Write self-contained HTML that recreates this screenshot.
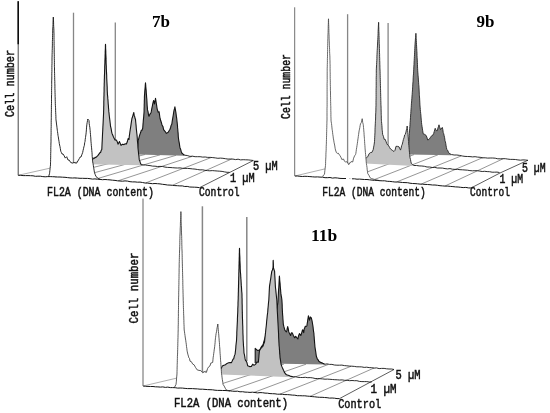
<!DOCTYPE html>
<html><head><meta charset="utf-8"><title>Figure</title>
<style>
html,body{margin:0;padding:0;background:#fff}
svg{display:block}
.m{font-family:"Liberation Mono",monospace;fill:#111;stroke:#111;stroke-width:0.5px}
.t{font-family:"Liberation Serif",serif;font-weight:bold;fill:#000}
</style></head><body>
<svg width="550" height="413" viewBox="0 0 550 413">
<rect width="550" height="413" fill="#fff"/>
<g>
<line x1="172.7" y1="185.2" x2="231.6" y2="159.0" stroke="#686868" stroke-width="0.7"/>
<line x1="146.0" y1="182.8" x2="211.0" y2="157.6" stroke="#686868" stroke-width="0.7"/>
<line x1="118.4" y1="180.7" x2="192.4" y2="156.3" stroke="#686868" stroke-width="0.7"/>
<line x1="95.8" y1="179.1" x2="176.0" y2="155.3" stroke="#686868" stroke-width="0.7"/>
<line x1="75.0" y1="178.0" x2="160.0" y2="154.9" stroke="#686868" stroke-width="0.7"/>
<line x1="55.0" y1="177.0" x2="145.0" y2="154.5" stroke="#686868" stroke-width="0.7"/>
<polyline points="18.2,175.3 73.0,163.0 115.0,152.0" fill="none" stroke="#777" stroke-width="0.6"/>
<polyline points="199.5,187.7 253.3,160.5" fill="none" stroke="#333" stroke-width="0.8"/>
<polyline points="184.5,155.2 187.2,155.5 190.0,156.4 192.5,156.2 195.1,156.7 197.6,156.7 200.1,156.7 202.7,157.1 205.2,157.0 207.7,157.4 210.3,157.4 212.8,157.6 215.3,157.9 217.9,158.3 220.4,158.1 222.9,158.3 225.4,158.7 228.0,159.1 230.5,159.0 233.0,159.1 235.6,159.6 238.1,159.2 240.6,159.9 243.2,159.7 245.7,159.8 248.2,159.9 250.8,160.2 253.3,160.5" fill="none" stroke="#141414" stroke-width="0.9"/>
<line x1="115.3" y1="22.5" x2="115.3" y2="152" stroke="#868686" stroke-width="1.3"/>
<polygon points="137.0,154.4 137.2,152.4 137.3,150.5 137.5,148.4 137.7,146.5 137.9,144.3 138.0,142.3 138.2,140.4 138.6,139.1 139.1,137.1 139.6,135.3 140.0,134.1 140.7,132.3 141.3,130.2 142.0,130.2 142.7,128.3 142.9,125.7 143.0,124.1 143.2,122.2 143.3,120.5 143.5,118.6 143.7,116.6 143.8,115.1 144.0,112.8 144.1,111.0 144.1,109.1 144.2,106.8 144.2,105.0 144.3,102.8 144.3,101.1 144.4,99.1 144.4,97.0 144.5,95.2 144.7,92.9 144.8,91.0 145.0,88.9 145.2,86.8 145.3,84.7 145.5,82.9 145.7,85.0 145.8,86.8 146.0,88.9 146.2,90.7 146.3,93.0 146.5,95.1 146.6,97.1 146.8,98.9 146.9,100.5 147.0,102.4 147.1,104.5 147.2,106.0 147.4,108.1 147.5,109.9 147.9,111.1 148.2,112.7 148.6,115.5 149.0,116.2 150.0,114.1 151.0,112.7 151.3,111.4 151.7,109.2 152.0,107.6 152.4,105.8 152.7,104.2 153.1,102.5 153.6,100.5 154.1,101.7 154.5,103.9 154.8,102.0 155.2,100.3 155.5,98.4 155.8,100.0 156.1,102.0 156.4,104.0 156.7,105.9 157.0,108.0 157.4,109.8 157.8,111.0 158.2,112.3 159.1,111.8 159.4,113.9 159.7,116.0 160.0,118.2 160.6,120.3 161.2,122.0 161.8,124.2 162.4,125.9 163.0,126.7 163.6,129.6 165.0,131.3 166.4,133.4 168.2,132.3 170.0,129.2 170.6,127.5 171.2,125.2 171.8,124.2 172.1,122.0 172.4,120.1 172.7,118.4 173.0,116.5 173.3,114.8 173.6,112.8 174.0,110.4 174.5,108.7 174.9,106.8 175.3,109.2 175.6,110.9 176.0,113.2 176.2,114.9 176.4,116.5 176.7,118.4 176.9,120.3 177.1,122.1 177.3,123.8 177.5,126.0 177.6,127.9 177.8,129.5 177.9,131.3 178.1,132.9 178.2,134.8 178.3,136.7 178.5,138.5 178.8,140.6 179.1,142.1 179.4,143.8 179.7,146.1 180.0,147.7 180.6,149.2 181.2,151.4 181.8,153.0 183.2,154.2 184.5,155.2 184.5,155.7 137.0,154.4" fill="#7f7f7f" stroke="none"/>
<polyline points="137.0,154.4 137.2,152.4 137.3,150.5 137.5,148.4 137.7,146.5 137.9,144.3 138.0,142.3 138.2,140.4 138.6,139.1 139.1,137.1 139.6,135.3 140.0,134.1 140.7,132.3 141.3,130.2 142.0,130.2 142.7,128.3 142.9,125.7 143.0,124.1 143.2,122.2 143.3,120.5 143.5,118.6 143.7,116.6 143.8,115.1 144.0,112.8 144.1,111.0 144.1,109.1 144.2,106.8 144.2,105.0 144.3,102.8 144.3,101.1 144.4,99.1 144.4,97.0 144.5,95.2 144.7,92.9 144.8,91.0 145.0,88.9 145.2,86.8 145.3,84.7 145.5,82.9 145.7,85.0 145.8,86.8 146.0,88.9 146.2,90.7 146.3,93.0 146.5,95.1 146.6,97.1 146.8,98.9 146.9,100.5 147.0,102.4 147.1,104.5 147.2,106.0 147.4,108.1 147.5,109.9 147.9,111.1 148.2,112.7 148.6,115.5 149.0,116.2 150.0,114.1 151.0,112.7 151.3,111.4 151.7,109.2 152.0,107.6 152.4,105.8 152.7,104.2 153.1,102.5 153.6,100.5 154.1,101.7 154.5,103.9 154.8,102.0 155.2,100.3 155.5,98.4 155.8,100.0 156.1,102.0 156.4,104.0 156.7,105.9 157.0,108.0 157.4,109.8 157.8,111.0 158.2,112.3 159.1,111.8 159.4,113.9 159.7,116.0 160.0,118.2 160.6,120.3 161.2,122.0 161.8,124.2 162.4,125.9 163.0,126.7 163.6,129.6 165.0,131.3 166.4,133.4 168.2,132.3 170.0,129.2 170.6,127.5 171.2,125.2 171.8,124.2 172.1,122.0 172.4,120.1 172.7,118.4 173.0,116.5 173.3,114.8 173.6,112.8 174.0,110.4 174.5,108.7 174.9,106.8 175.3,109.2 175.6,110.9 176.0,113.2 176.2,114.9 176.4,116.5 176.7,118.4 176.9,120.3 177.1,122.1 177.3,123.8 177.5,126.0 177.6,127.9 177.8,129.5 177.9,131.3 178.1,132.9 178.2,134.8 178.3,136.7 178.5,138.5 178.8,140.6 179.1,142.1 179.4,143.8 179.7,146.1 180.0,147.7 180.6,149.2 181.2,151.4 181.8,153.0 183.2,154.2 184.5,155.2" fill="none" stroke="#141414" stroke-width="1.1" stroke-linejoin="round"/>
<polyline points="141.0,164.5 143.2,164.9 145.5,165.0 147.8,165.4 150.0,165.6 152.5,166.1 155.0,166.2 157.5,166.5 160.0,166.4 162.5,166.5 165.0,167.1 167.5,167.4 170.0,167.5 172.5,167.7 175.0,167.9 177.5,168.0 180.0,167.9 182.5,168.3 185.0,168.4 187.5,168.4 190.0,168.6 192.5,168.9 195.0,169.1 197.5,169.5 200.0,169.9 202.5,169.8 204.9,170.3 207.4,170.6 209.8,170.8 212.3,170.6 214.8,170.8 217.2,171.0 219.7,171.2 222.1,171.4 224.6,171.9 227.0,172.3 229.5,172.3" fill="none" stroke="#141414" stroke-width="0.9"/>
<line x1="73.5" y1="12.7" x2="73.5" y2="163" stroke="#868686" stroke-width="1.3"/>
<polygon points="88.0,164.0 89.0,162.8 90.0,161.7 91.0,159.3 92.0,158.9 93.5,158.7 95.0,157.7 96.5,156.9 98.0,155.4 100.0,152.6 100.6,152.5 101.2,150.3 101.8,149.5 101.9,147.2 102.0,145.0 102.1,143.0 102.2,141.2 102.3,139.1 102.4,136.9 102.5,134.8 102.6,132.8 102.7,131.2 102.8,129.1 102.9,126.8 103.0,125.1 103.1,123.2 103.2,121.1 103.3,118.9 103.4,117.0 103.5,114.8 103.6,112.8 103.6,111.3 103.7,109.2 103.7,107.2 103.8,105.4 103.8,103.3 103.8,101.5 103.9,99.6 103.9,97.3 104.0,95.4 104.0,93.5 104.1,91.5 104.1,89.7 104.1,87.7 104.2,85.8 104.2,83.7 104.3,82.1 104.3,79.9 104.4,78.1 104.4,76.3 104.5,74.5 104.6,72.4 104.6,70.8 104.7,68.7 104.7,66.8 104.8,64.9 104.9,62.8 104.9,61.1 105.0,59.1 105.1,57.2 105.1,55.6 105.2,53.5 105.2,51.7 105.3,50.0 105.4,48.0 105.4,46.0 105.5,44.2 105.6,46.1 105.6,48.0 105.7,49.6 105.8,51.6 105.8,53.3 105.9,55.2 106.0,57.2 106.0,58.9 106.1,60.8 106.1,62.7 106.2,64.7 106.3,66.3 106.3,68.2 106.4,70.0 106.5,71.9 106.6,73.9 106.7,75.7 106.7,77.7 106.8,79.6 106.9,81.7 107.0,83.6 107.1,85.6 107.2,87.5 107.2,89.1 107.3,91.2 107.4,93.3 107.5,95.2 107.7,96.6 107.8,98.4 108.0,100.4 108.1,102.0 108.2,103.9 108.4,105.6 108.5,107.7 108.7,109.5 108.8,111.4 109.0,112.8 109.2,115.0 109.4,116.8 109.6,118.4 109.9,120.6 110.1,122.5 110.3,124.0 110.5,126.2 110.9,127.6 111.3,129.6 111.7,132.1 112.1,133.7 112.5,134.5 113.2,136.3 114.0,138.0 115.0,140.0 116.5,140.1 117.2,141.7 118.0,144.2 119.5,141.6 121.0,145.4 122.5,144.3 124.0,144.6 125.2,143.7 126.4,144.0 127.3,141.8 128.1,138.6 129.0,139.5 129.3,136.1 129.6,134.2 129.9,131.8 130.2,129.9 130.5,127.8 130.8,126.1 131.1,123.9 131.4,121.8 131.7,120.0 132.0,118.2 132.6,116.8 133.2,114.3 133.8,112.5 134.2,115.4 134.7,116.6 135.1,118.6 135.5,119.4 135.7,121.7 135.9,123.8 136.1,125.6 136.2,127.3 136.4,129.6 136.6,131.3 136.8,133.3 137.0,134.8 137.2,137.0 137.3,138.6 137.4,140.8 137.6,142.5 137.8,144.3 137.9,146.3 138.0,148.3 138.2,149.9 138.4,151.8 138.6,154.0 138.9,155.9 139.1,157.9 139.3,159.9 139.9,161.3 140.4,162.9 141.0,164.5 141.0,165.2 88.0,164.2" fill="#c2c2c2" stroke="none"/>
<polyline points="88.0,164.0 89.0,162.8 90.0,161.7 91.0,159.3 92.0,158.9 93.5,158.7 95.0,157.7 96.5,156.9 98.0,155.4 100.0,152.6 100.6,152.5 101.2,150.3 101.8,149.5 101.9,147.2 102.0,145.0 102.1,143.0 102.2,141.2 102.3,139.1 102.4,136.9 102.5,134.8 102.6,132.8 102.7,131.2 102.8,129.1 102.9,126.8 103.0,125.1 103.1,123.2 103.2,121.1 103.3,118.9 103.4,117.0 103.5,114.8 103.6,112.8 103.6,111.3 103.7,109.2 103.7,107.2 103.8,105.4 103.8,103.3 103.8,101.5 103.9,99.6 103.9,97.3 104.0,95.4 104.0,93.5 104.1,91.5 104.1,89.7 104.1,87.7 104.2,85.8 104.2,83.7 104.3,82.1 104.3,79.9 104.4,78.1 104.4,76.3 104.5,74.5 104.6,72.4 104.6,70.8 104.7,68.7 104.7,66.8 104.8,64.9 104.9,62.8 104.9,61.1 105.0,59.1 105.1,57.2 105.1,55.6 105.2,53.5 105.2,51.7 105.3,50.0 105.4,48.0 105.4,46.0 105.5,44.2 105.6,46.1 105.6,48.0 105.7,49.6 105.8,51.6 105.8,53.3 105.9,55.2 106.0,57.2 106.0,58.9 106.1,60.8 106.1,62.7 106.2,64.7 106.3,66.3 106.3,68.2 106.4,70.0 106.5,71.9 106.6,73.9 106.7,75.7 106.7,77.7 106.8,79.6 106.9,81.7 107.0,83.6 107.1,85.6 107.2,87.5 107.2,89.1 107.3,91.2 107.4,93.3 107.5,95.2 107.7,96.6 107.8,98.4 108.0,100.4 108.1,102.0 108.2,103.9 108.4,105.6 108.5,107.7 108.7,109.5 108.8,111.4 109.0,112.8 109.2,115.0 109.4,116.8 109.6,118.4 109.9,120.6 110.1,122.5 110.3,124.0 110.5,126.2 110.9,127.6 111.3,129.6 111.7,132.1 112.1,133.7 112.5,134.5 113.2,136.3 114.0,138.0 115.0,140.0 116.5,140.1 117.2,141.7 118.0,144.2 119.5,141.6 121.0,145.4 122.5,144.3 124.0,144.6 125.2,143.7 126.4,144.0 127.3,141.8 128.1,138.6 129.0,139.5 129.3,136.1 129.6,134.2 129.9,131.8 130.2,129.9 130.5,127.8 130.8,126.1 131.1,123.9 131.4,121.8 131.7,120.0 132.0,118.2 132.6,116.8 133.2,114.3 133.8,112.5 134.2,115.4 134.7,116.6 135.1,118.6 135.5,119.4 135.7,121.7 135.9,123.8 136.1,125.6 136.2,127.3 136.4,129.6 136.6,131.3 136.8,133.3 137.0,134.8 137.2,137.0 137.3,138.6 137.4,140.8 137.6,142.5 137.8,144.3 137.9,146.3 138.0,148.3 138.2,149.9 138.4,151.8 138.6,154.0 138.9,155.9 139.1,157.9 139.3,159.9 139.9,161.3 140.4,162.9 141.0,164.5" fill="none" stroke="#141414" stroke-width="1.1" stroke-linejoin="round"/>
<polygon points="48.2,176.6 48.9,175.6 49.5,173.7 49.7,172.2 49.9,170.3 50.1,168.5 50.3,166.6 50.5,164.9 50.5,162.9 50.6,161.3 50.6,159.3 50.7,157.2 50.7,155.4 50.7,153.7 50.8,151.4 50.8,149.8 50.8,147.7 50.9,145.8 50.9,144.0 51.0,141.9 51.0,140.0 51.0,138.2 51.0,136.4 51.1,134.2 51.1,132.5 51.1,130.6 51.1,128.6 51.2,126.6 51.2,124.7 51.2,122.7 51.2,120.8 51.3,118.9 51.3,117.3 51.3,115.1 51.3,113.2 51.4,111.2 51.4,109.7 51.4,107.8 51.4,105.8 51.5,103.7 51.5,101.8 51.5,99.9 51.5,98.1 51.5,96.0 51.6,94.3 51.6,92.3 51.6,90.7 51.6,88.8 51.7,86.7 51.7,84.6 51.7,83.1 51.7,80.9 51.8,79.0 51.8,76.9 51.8,75.2 51.8,73.3 51.9,71.4 51.9,69.4 51.9,67.6 51.9,65.5 52.0,63.7 52.0,61.7 52.0,60.0 52.0,57.9 52.1,56.0 52.1,54.3 52.2,52.4 52.2,50.7 52.3,48.8 52.3,47.0 52.4,45.1 52.4,43.2 52.4,41.4 52.5,39.3 52.5,37.4 52.6,35.8 52.6,33.6 52.7,32.0 52.7,30.1 52.8,28.0 52.9,26.5 53.0,24.7 53.0,22.8 53.1,21.0 53.2,19.3 53.3,17.1 53.4,19.1 53.5,20.9 53.6,22.9 53.6,24.7 53.7,26.5 53.8,28.2 53.9,30.2 53.9,32.0 54.0,33.9 54.0,35.6 54.0,37.4 54.0,39.4 54.1,41.4 54.1,43.2 54.1,45.4 54.2,47.2 54.2,49.1 54.2,51.0 54.2,52.9 54.3,54.8 54.3,56.4 54.3,58.7 54.4,60.6 54.4,62.4 54.4,64.3 54.4,66.3 54.5,67.9 54.5,70.1 54.5,71.8 54.6,73.6 54.6,75.5 54.7,77.6 54.7,79.2 54.8,81.4 54.8,83.3 54.9,85.0 54.9,86.8 54.9,88.7 55.0,90.7 55.0,92.6 55.1,94.4 55.1,96.3 55.2,97.9 55.2,99.8 55.3,101.7 55.3,103.7 55.4,105.4 55.5,107.3 55.6,108.9 55.6,110.7 55.7,112.6 55.8,114.6 55.9,116.5 55.9,118.3 56.0,119.9 56.3,122.0 56.5,124.0 56.8,126.0 57.0,127.8 57.3,130.2 57.5,131.6 57.8,133.7 58.0,135.4 58.3,136.8 58.6,139.1 59.0,141.3 59.3,143.5 59.6,145.0 60.0,146.7 60.3,148.4 60.8,151.3 61.3,152.3 62.1,154.1 63.0,153.9 64.2,155.9 65.3,158.1 66.7,156.7 68.0,160.0 69.3,160.2 70.7,162.5 72.5,163.1 74.0,162.5 76.5,163.2 77.9,161.0 79.3,158.6 80.2,157.0 81.0,157.0 81.8,154.8 82.7,152.4 83.1,150.3 83.5,148.7 83.9,146.8 84.3,145.7 84.7,142.6 85.0,141.6 85.2,139.7 85.5,137.5 85.7,136.1 86.0,134.1 86.2,132.2 86.4,129.9 86.5,127.9 86.7,126.0 86.9,124.2 87.2,122.4 87.5,120.6 87.8,119.0 88.4,119.8 89.0,120.6 89.2,123.6 89.5,125.7 89.8,127.2 90.0,129.2 90.2,130.7 90.3,132.5 90.5,134.4 90.6,136.1 90.8,137.9 90.9,140.0 91.0,141.8 91.2,143.5 91.3,145.3 91.5,147.2 91.7,149.0 91.8,150.7 92.0,152.6 92.1,154.2 92.2,156.4 92.4,158.1 92.5,160.1 92.7,161.9 93.0,163.5 93.3,165.2 93.6,167.4 93.9,168.9 94.2,170.9 94.5,172.7 95.2,174.5 96.0,176.6 98.2,178.4 100.0,179.3 100.0,179.3 48.2,176.6" fill="#fff" stroke="none"/>
<polyline points="48.2,176.6 48.9,175.6 49.5,173.7 49.7,172.2 49.9,170.3 50.1,168.5 50.3,166.6 50.5,164.9 50.5,162.9 50.6,161.3 50.6,159.3 50.7,157.2 50.7,155.4 50.7,153.7 50.8,151.4 50.8,149.8 50.8,147.7 50.9,145.8 50.9,144.0 51.0,141.9 51.0,140.0 51.0,138.2 51.0,136.4 51.1,134.2 51.1,132.5 51.1,130.6 51.1,128.6 51.2,126.6 51.2,124.7 51.2,122.7 51.2,120.8 51.3,118.9 51.3,117.3 51.3,115.1 51.3,113.2 51.4,111.2 51.4,109.7 51.4,107.8 51.4,105.8 51.5,103.7 51.5,101.8 51.5,99.9 51.5,98.1 51.5,96.0 51.6,94.3 51.6,92.3 51.6,90.7 51.6,88.8 51.7,86.7 51.7,84.6 51.7,83.1 51.7,80.9 51.8,79.0 51.8,76.9 51.8,75.2 51.8,73.3 51.9,71.4 51.9,69.4 51.9,67.6 51.9,65.5 52.0,63.7 52.0,61.7 52.0,60.0 52.0,57.9 52.1,56.0 52.1,54.3 52.2,52.4 52.2,50.7 52.3,48.8 52.3,47.0 52.4,45.1 52.4,43.2 52.4,41.4 52.5,39.3 52.5,37.4 52.6,35.8 52.6,33.6 52.7,32.0 52.7,30.1 52.8,28.0 52.9,26.5 53.0,24.7 53.0,22.8 53.1,21.0 53.2,19.3 53.3,17.1 53.4,19.1 53.5,20.9 53.6,22.9 53.6,24.7 53.7,26.5 53.8,28.2 53.9,30.2 53.9,32.0 54.0,33.9 54.0,35.6 54.0,37.4 54.0,39.4 54.1,41.4 54.1,43.2 54.1,45.4 54.2,47.2 54.2,49.1 54.2,51.0 54.2,52.9 54.3,54.8 54.3,56.4 54.3,58.7 54.4,60.6 54.4,62.4 54.4,64.3 54.4,66.3 54.5,67.9 54.5,70.1 54.5,71.8 54.6,73.6 54.6,75.5 54.7,77.6 54.7,79.2 54.8,81.4 54.8,83.3 54.9,85.0 54.9,86.8 54.9,88.7 55.0,90.7 55.0,92.6 55.1,94.4 55.1,96.3 55.2,97.9 55.2,99.8 55.3,101.7 55.3,103.7 55.4,105.4 55.5,107.3 55.6,108.9 55.6,110.7 55.7,112.6 55.8,114.6 55.9,116.5 55.9,118.3 56.0,119.9 56.3,122.0 56.5,124.0 56.8,126.0 57.0,127.8 57.3,130.2 57.5,131.6 57.8,133.7 58.0,135.4 58.3,136.8 58.6,139.1 59.0,141.3 59.3,143.5 59.6,145.0 60.0,146.7 60.3,148.4 60.8,151.3 61.3,152.3 62.1,154.1 63.0,153.9 64.2,155.9 65.3,158.1 66.7,156.7 68.0,160.0 69.3,160.2 70.7,162.5 72.5,163.1 74.0,162.5 76.5,163.2 77.9,161.0 79.3,158.6 80.2,157.0 81.0,157.0 81.8,154.8 82.7,152.4 83.1,150.3 83.5,148.7 83.9,146.8 84.3,145.7 84.7,142.6 85.0,141.6 85.2,139.7 85.5,137.5 85.7,136.1 86.0,134.1 86.2,132.2 86.4,129.9 86.5,127.9 86.7,126.0 86.9,124.2 87.2,122.4 87.5,120.6 87.8,119.0 88.4,119.8 89.0,120.6 89.2,123.6 89.5,125.7 89.8,127.2 90.0,129.2 90.2,130.7 90.3,132.5 90.5,134.4 90.6,136.1 90.8,137.9 90.9,140.0 91.0,141.8 91.2,143.5 91.3,145.3 91.5,147.2 91.7,149.0 91.8,150.7 92.0,152.6 92.1,154.2 92.2,156.4 92.4,158.1 92.5,160.1 92.7,161.9 93.0,163.5 93.3,165.2 93.6,167.4 93.9,168.9 94.2,170.9 94.5,172.7 95.2,174.5 96.0,176.6 98.2,178.4 100.0,179.3" fill="none" stroke="#141414" stroke-width="0.9" stroke-linejoin="round"/>
<polyline points="18.2,175.3 20.7,175.3 23.1,175.6 25.6,175.6 28.0,175.6 30.5,175.7 33.0,175.8 35.4,176.3 37.9,176.2 40.3,176.2 42.8,176.6 45.2,176.8 47.7,176.6 50.2,176.6 52.6,176.7 55.1,176.8 57.5,177.0 60.0,177.0 62.5,177.2 65.0,177.3 67.5,177.6 70.0,177.9 72.5,178.0 75.0,177.9 77.5,178.1 80.0,178.3 82.5,178.3 85.0,178.4 87.5,178.4 90.0,178.7 92.5,179.1 95.0,178.9 97.5,179.2 100.0,179.4 102.5,179.7 105.0,179.5 107.5,179.7 110.0,179.9 112.5,180.2 115.0,180.4 117.5,180.8 120.0,181.0 122.5,181.2 125.0,180.9 127.5,181.1 130.0,181.7 132.5,181.9 135.0,181.9 137.5,182.2 140.0,182.1 142.5,182.5 145.0,183.0 147.5,183.1 150.0,183.4 152.5,183.7 155.0,183.5 157.5,183.7 160.0,183.9 162.5,184.3 165.0,184.6 167.5,185.0 170.0,185.1 172.5,185.3 174.9,185.6 177.4,185.7 179.8,185.9 182.3,185.9 184.8,186.5 187.2,186.4 189.7,187.0 192.1,187.1 194.6,187.2 197.0,187.3 199.5,187.7" fill="none" stroke="#141414" stroke-width="1"/>
<line x1="18.2" y1="1.2" x2="18.2" y2="175.3" stroke="#444" stroke-width="1"/>
<line x1="18.2" y1="1.2" x2="18.2" y2="44.3" stroke="#000" stroke-width="1.4"/>
<text x="13.6" y="117" textLength="67" lengthAdjust="spacingAndGlyphs" font-size="12.2" class="m" transform="rotate(-90 13.6 117)">Cell number</text>
<text x="47" y="196.1" textLength="107" lengthAdjust="spacingAndGlyphs" font-size="12.2" class="m">FL2A (DNA content)</text>
<text x="199" y="196" textLength="40.6" lengthAdjust="spacingAndGlyphs" font-size="12.2" class="m">Control</text>
<text x="229.9" y="181.9" textLength="24.7" lengthAdjust="spacingAndGlyphs" font-size="12.2" class="m">1 µM</text>
<text x="252.9" y="169.5" textLength="24.7" lengthAdjust="spacingAndGlyphs" font-size="12.2" class="m">5 µM</text>
<text x="152" y="27" font-size="17" class="t">7b</text>
</g>
<g>
<line x1="445.0" y1="186.0" x2="503.0" y2="158.8" stroke="#686868" stroke-width="0.7"/>
<line x1="421.4" y1="184.0" x2="483.0" y2="157.5" stroke="#686868" stroke-width="0.7"/>
<line x1="396.8" y1="181.9" x2="461.0" y2="156.0" stroke="#686868" stroke-width="0.7"/>
<line x1="373.0" y1="180.1" x2="438.0" y2="154.8" stroke="#686868" stroke-width="0.7"/>
<line x1="349.0" y1="178.7" x2="414.0" y2="154.6" stroke="#686868" stroke-width="0.7"/>
<line x1="326.0" y1="177.5" x2="392.0" y2="153.3" stroke="#686868" stroke-width="0.7"/>
<polyline points="294.9,176.0 347.6,163.5 388.1,153.0" fill="none" stroke="#777" stroke-width="0.6"/>
<polyline points="471.0,188.0 500.0,173.0 528.0,160.2" fill="none" stroke="#333" stroke-width="0.8"/>
<polyline points="451.4,154.5 454.1,155.0 456.8,155.0 459.6,155.4 462.3,156.0 465.0,156.4 467.5,156.5 470.0,156.6 472.6,156.9 475.1,156.7 477.6,157.1 480.1,157.3 482.6,157.8 485.2,157.8 487.7,158.1 490.2,158.0 492.7,158.0 495.2,158.2 497.8,158.8 500.3,158.8 502.8,158.7 505.3,158.7 507.8,159.1 510.4,159.4 512.9,159.4 515.4,159.5 517.9,159.9 520.4,160.2 523.0,159.9 525.5,160.0 528.0,160.4" fill="none" stroke="#141414" stroke-width="0.9"/>
<line x1="388.1" y1="23.1" x2="388.1" y2="153" stroke="#868686" stroke-width="1.3"/>
<polygon points="408.6,154.5 408.6,152.6 408.6,150.6 408.6,148.9 408.6,147.0 408.6,145.0 408.7,143.0 408.9,141.5 409.0,139.3 409.1,137.7 409.2,135.6 409.4,133.7 409.5,132.1 409.6,130.0 409.7,128.4 409.9,126.4 410.0,124.4 410.1,122.5 410.3,120.8 410.4,119.0 410.5,117.3 410.6,115.1 410.8,113.4 410.9,111.4 411.0,109.9 411.2,107.7 411.3,105.8 411.4,103.8 411.6,102.0 411.7,100.2 411.9,98.2 412.0,96.1 412.2,94.2 412.3,92.2 412.5,89.9 412.6,87.9 412.7,86.2 412.8,84.1 413.0,81.8 413.1,80.1 413.2,77.9 413.3,75.9 413.5,73.9 413.6,71.9 413.7,69.8 413.8,68.0 413.9,66.1 414.0,64.4 414.1,62.1 414.2,60.6 414.3,58.3 414.4,56.5 414.5,54.8 414.6,52.8 414.7,50.7 414.8,48.6 414.9,46.9 415.0,44.9 415.1,43.2 415.3,41.0 415.4,39.1 415.6,37.4 415.8,35.0 415.9,33.3 416.0,35.3 416.1,37.1 416.2,38.7 416.3,40.5 416.4,42.4 416.5,44.6 416.6,46.2 416.7,48.3 416.8,50.2 416.9,51.7 417.0,53.5 417.0,55.7 417.1,57.3 417.2,59.0 417.3,61.0 417.4,62.6 417.5,64.4 417.5,66.1 417.6,68.3 417.7,70.2 417.8,72.1 418.0,74.2 418.1,75.8 418.3,77.9 418.4,80.0 418.6,82.2 418.7,84.2 418.9,85.9 419.0,87.9 419.1,90.0 419.2,92.0 419.3,94.2 419.4,95.9 419.6,98.1 419.7,100.1 419.8,102.1 419.9,104.1 420.0,106.0 420.2,107.8 420.3,109.6 420.5,111.5 420.7,113.5 420.9,115.1 421.0,117.0 421.2,119.1 421.4,120.7 421.5,122.5 421.7,124.3 422.0,126.3 422.3,128.1 422.6,130.2 422.9,132.0 423.2,133.8 424.5,134.3 425.9,135.2 426.8,137.0 427.7,140.0 429.1,139.4 430.5,137.3 431.9,135.5 433.2,134.8 433.7,133.4 434.2,131.7 434.7,130.0 435.2,128.3 436.0,130.3 436.8,130.7 437.4,130.6 437.9,128.1 438.4,126.8 439.0,124.8 439.5,127.0 440.0,127.9 440.5,129.6 442.3,127.4 442.8,129.5 443.2,132.4 443.7,133.7 444.1,135.5 444.6,137.7 445.0,140.7 445.4,141.8 445.7,143.2 446.1,145.9 446.4,147.4 446.8,149.5 447.7,150.3 448.6,152.7 450.0,153.8 451.4,154.5 451.4,155.2 408.6,154.5" fill="#7f7f7f" stroke="none"/>
<polyline points="408.6,154.5 408.6,152.6 408.6,150.6 408.6,148.9 408.6,147.0 408.6,145.0 408.7,143.0 408.9,141.5 409.0,139.3 409.1,137.7 409.2,135.6 409.4,133.7 409.5,132.1 409.6,130.0 409.7,128.4 409.9,126.4 410.0,124.4 410.1,122.5 410.3,120.8 410.4,119.0 410.5,117.3 410.6,115.1 410.8,113.4 410.9,111.4 411.0,109.9 411.2,107.7 411.3,105.8 411.4,103.8 411.6,102.0 411.7,100.2 411.9,98.2 412.0,96.1 412.2,94.2 412.3,92.2 412.5,89.9 412.6,87.9 412.7,86.2 412.8,84.1 413.0,81.8 413.1,80.1 413.2,77.9 413.3,75.9 413.5,73.9 413.6,71.9 413.7,69.8 413.8,68.0 413.9,66.1 414.0,64.4 414.1,62.1 414.2,60.6 414.3,58.3 414.4,56.5 414.5,54.8 414.6,52.8 414.7,50.7 414.8,48.6 414.9,46.9 415.0,44.9 415.1,43.2 415.3,41.0 415.4,39.1 415.6,37.4 415.8,35.0 415.9,33.3 416.0,35.3 416.1,37.1 416.2,38.7 416.3,40.5 416.4,42.4 416.5,44.6 416.6,46.2 416.7,48.3 416.8,50.2 416.9,51.7 417.0,53.5 417.0,55.7 417.1,57.3 417.2,59.0 417.3,61.0 417.4,62.6 417.5,64.4 417.5,66.1 417.6,68.3 417.7,70.2 417.8,72.1 418.0,74.2 418.1,75.8 418.3,77.9 418.4,80.0 418.6,82.2 418.7,84.2 418.9,85.9 419.0,87.9 419.1,90.0 419.2,92.0 419.3,94.2 419.4,95.9 419.6,98.1 419.7,100.1 419.8,102.1 419.9,104.1 420.0,106.0 420.2,107.8 420.3,109.6 420.5,111.5 420.7,113.5 420.9,115.1 421.0,117.0 421.2,119.1 421.4,120.7 421.5,122.5 421.7,124.3 422.0,126.3 422.3,128.1 422.6,130.2 422.9,132.0 423.2,133.8 424.5,134.3 425.9,135.2 426.8,137.0 427.7,140.0 429.1,139.4 430.5,137.3 431.9,135.5 433.2,134.8 433.7,133.4 434.2,131.7 434.7,130.0 435.2,128.3 436.0,130.3 436.8,130.7 437.4,130.6 437.9,128.1 438.4,126.8 439.0,124.8 439.5,127.0 440.0,127.9 440.5,129.6 442.3,127.4 442.8,129.5 443.2,132.4 443.7,133.7 444.1,135.5 444.6,137.7 445.0,140.7 445.4,141.8 445.7,143.2 446.1,145.9 446.4,147.4 446.8,149.5 447.7,150.3 448.6,152.7 450.0,153.8 451.4,154.5" fill="none" stroke="#262626" stroke-width="0.9" stroke-linejoin="round"/>
<polyline points="414.0,165.5 416.6,165.5 419.2,165.9 421.8,166.0 424.4,166.3 427.0,167.0 429.6,167.0 432.2,167.5 434.8,167.4 437.4,168.0 440.0,168.0 442.5,168.1 445.0,168.6 447.5,168.9 450.0,168.6 452.5,169.2 455.0,169.4 457.5,169.4 460.0,169.7 462.5,169.8 465.0,170.0 467.5,170.2 469.9,170.6 472.4,170.8 474.9,170.7 477.3,170.7 479.8,171.1 482.2,171.5 484.7,171.3 487.2,171.6 489.6,171.7 492.1,172.2 494.6,172.2 497.0,172.1 499.5,172.5" fill="none" stroke="#141414" stroke-width="0.9"/>
<line x1="347.6" y1="14.2" x2="347.6" y2="163.5" stroke="#868686" stroke-width="1.3"/>
<polygon points="365.0,159.0 366.4,157.8 367.8,156.7 369.1,153.7 370.5,152.6 371.9,152.4 373.2,149.7 373.5,147.9 373.9,145.8 374.2,144.1 374.5,141.7 374.6,139.8 374.7,137.8 374.8,135.8 374.9,134.0 375.0,132.1 375.0,129.8 375.1,127.8 375.2,126.0 375.3,123.8 375.4,121.8 375.5,120.2 375.6,118.0 375.6,116.1 375.7,114.0 375.8,112.2 375.9,110.0 375.9,107.8 376.0,105.8 376.0,104.1 376.0,102.3 376.0,100.5 376.1,98.2 376.1,96.6 376.1,94.6 376.1,92.7 376.1,90.7 376.1,88.8 376.2,87.1 376.2,85.3 376.2,83.1 376.2,81.4 376.2,79.6 376.2,77.8 376.3,75.5 376.3,73.6 376.3,72.1 376.3,70.2 376.4,68.1 376.5,66.0 376.6,64.4 376.7,62.3 376.8,60.6 376.9,58.5 376.9,56.7 377.0,54.5 377.1,52.8 377.2,50.6 377.3,48.8 377.4,47.1 377.5,45.1 377.6,43.0 377.7,41.1 377.8,39.3 377.9,37.4 378.0,35.4 378.1,33.4 378.1,31.6 378.2,29.9 378.3,28.1 378.4,25.8 378.5,24.1 378.6,22.3 378.7,23.9 378.7,26.2 378.8,27.7 378.8,29.8 378.9,31.7 379.0,33.7 379.0,35.4 379.1,37.4 379.1,39.3 379.2,41.2 379.2,43.2 379.3,45.0 379.4,46.9 379.4,48.6 379.5,50.8 379.5,52.7 379.6,54.5 379.6,56.7 379.7,58.6 379.7,60.4 379.8,62.2 379.8,64.2 379.9,66.0 379.9,67.9 380.0,70.0 380.1,71.7 380.1,73.8 380.2,75.7 380.2,77.4 380.3,79.5 380.3,81.2 380.4,83.4 380.4,85.3 380.5,87.1 380.5,88.7 380.6,90.8 380.6,92.7 380.7,94.8 380.7,96.4 380.8,98.6 380.8,100.5 380.9,102.3 380.9,104.2 381.0,105.9 381.1,108.2 381.1,110.0 381.2,112.2 381.2,114.2 381.3,115.8 381.3,118.1 381.4,120.2 381.5,121.6 381.7,123.6 381.9,125.6 382.0,127.1 382.1,129.2 382.3,130.8 382.5,132.8 382.6,134.3 383.4,136.3 384.2,139.4 385.0,139.1 385.9,141.1 386.8,143.7 387.7,145.0 388.6,145.6 389.6,147.5 390.5,149.0 392.3,150.3 394.0,151.5 395.0,150.3 396.0,146.3 397.7,146.4 399.0,146.8 400.5,150.1 401.1,148.1 401.7,145.5 402.3,144.2 402.9,141.6 403.4,139.5 404.0,137.9 404.7,134.9 405.3,134.4 406.0,132.0 406.4,129.8 406.8,128.6 407.2,126.0 407.4,128.6 407.6,130.5 407.8,132.4 408.0,134.6 408.1,136.3 408.3,138.0 408.4,140.1 408.6,141.6 408.7,143.8 408.9,145.4 409.0,147.4 409.2,149.3 409.3,150.9 409.5,152.7 409.7,154.3 409.8,156.0 410.0,157.8 410.5,159.5 410.9,161.8 411.4,163.6 412.7,164.6 414.0,165.5 414.0,165.9 365.0,163.6" fill="#c2c2c2" stroke="none"/>
<polyline points="365.0,159.0 366.4,157.8 367.8,156.7 369.1,153.7 370.5,152.6 371.9,152.4 373.2,149.7 373.5,147.9 373.9,145.8 374.2,144.1 374.5,141.7 374.6,139.8 374.7,137.8 374.8,135.8 374.9,134.0 375.0,132.1 375.0,129.8 375.1,127.8 375.2,126.0 375.3,123.8 375.4,121.8 375.5,120.2 375.6,118.0 375.6,116.1 375.7,114.0 375.8,112.2 375.9,110.0 375.9,107.8 376.0,105.8 376.0,104.1 376.0,102.3 376.0,100.5 376.1,98.2 376.1,96.6 376.1,94.6 376.1,92.7 376.1,90.7 376.1,88.8 376.2,87.1 376.2,85.3 376.2,83.1 376.2,81.4 376.2,79.6 376.2,77.8 376.3,75.5 376.3,73.6 376.3,72.1 376.3,70.2 376.4,68.1 376.5,66.0 376.6,64.4 376.7,62.3 376.8,60.6 376.9,58.5 376.9,56.7 377.0,54.5 377.1,52.8 377.2,50.6 377.3,48.8 377.4,47.1 377.5,45.1 377.6,43.0 377.7,41.1 377.8,39.3 377.9,37.4 378.0,35.4 378.1,33.4 378.1,31.6 378.2,29.9 378.3,28.1 378.4,25.8 378.5,24.1 378.6,22.3 378.7,23.9 378.7,26.2 378.8,27.7 378.8,29.8 378.9,31.7 379.0,33.7 379.0,35.4 379.1,37.4 379.1,39.3 379.2,41.2 379.2,43.2 379.3,45.0 379.4,46.9 379.4,48.6 379.5,50.8 379.5,52.7 379.6,54.5 379.6,56.7 379.7,58.6 379.7,60.4 379.8,62.2 379.8,64.2 379.9,66.0 379.9,67.9 380.0,70.0 380.1,71.7 380.1,73.8 380.2,75.7 380.2,77.4 380.3,79.5 380.3,81.2 380.4,83.4 380.4,85.3 380.5,87.1 380.5,88.7 380.6,90.8 380.6,92.7 380.7,94.8 380.7,96.4 380.8,98.6 380.8,100.5 380.9,102.3 380.9,104.2 381.0,105.9 381.1,108.2 381.1,110.0 381.2,112.2 381.2,114.2 381.3,115.8 381.3,118.1 381.4,120.2 381.5,121.6 381.7,123.6 381.9,125.6 382.0,127.1 382.1,129.2 382.3,130.8 382.5,132.8 382.6,134.3 383.4,136.3 384.2,139.4 385.0,139.1 385.9,141.1 386.8,143.7 387.7,145.0 388.6,145.6 389.6,147.5 390.5,149.0 392.3,150.3 394.0,151.5 395.0,150.3 396.0,146.3 397.7,146.4 399.0,146.8 400.5,150.1 401.1,148.1 401.7,145.5 402.3,144.2 402.9,141.6 403.4,139.5 404.0,137.9 404.7,134.9 405.3,134.4 406.0,132.0 406.4,129.8 406.8,128.6 407.2,126.0 407.4,128.6 407.6,130.5 407.8,132.4 408.0,134.6 408.1,136.3 408.3,138.0 408.4,140.1 408.6,141.6 408.7,143.8 408.9,145.4 409.0,147.4 409.2,149.3 409.3,150.9 409.5,152.7 409.7,154.3 409.8,156.0 410.0,157.8 410.5,159.5 410.9,161.8 411.4,163.6 412.7,164.6 414.0,165.5" fill="none" stroke="#262626" stroke-width="0.9" stroke-linejoin="round"/>
<polygon points="322.7,176.7 323.6,174.9 324.5,174.3 324.7,172.1 324.9,170.4 325.1,168.8 325.3,167.0 325.5,165.4 325.6,163.5 325.6,161.8 325.7,159.9 325.8,157.9 325.9,156.2 325.9,154.3 326.0,152.3 326.1,150.8 326.2,148.6 326.2,146.7 326.3,144.8 326.4,143.1 326.4,141.3 326.5,139.4 326.5,137.3 326.6,135.3 326.6,133.2 326.7,131.6 326.7,129.6 326.8,127.6 326.8,125.8 326.9,123.8 326.9,122.1 327.0,120.1 327.0,118.0 327.0,116.3 327.0,114.0 327.0,112.3 327.0,110.3 327.0,108.3 327.1,106.3 327.1,104.7 327.1,102.5 327.1,100.8 327.1,99.0 327.1,96.8 327.1,94.9 327.1,93.1 327.1,91.2 327.1,89.3 327.1,87.4 327.1,85.2 327.1,83.4 327.2,81.4 327.2,79.4 327.2,77.9 327.2,75.9 327.2,73.9 327.2,71.7 327.2,70.2 327.2,68.2 327.3,66.2 327.3,64.5 327.4,62.5 327.4,60.5 327.4,58.6 327.5,56.8 327.5,54.8 327.5,53.1 327.6,51.4 327.6,49.5 327.6,47.7 327.7,45.7 327.7,43.6 327.8,41.9 327.8,40.0 327.9,38.2 327.9,36.1 328.0,34.1 328.1,32.3 328.1,30.5 328.2,28.3 328.2,26.6 328.3,24.3 328.4,22.5 328.4,20.5 328.5,18.8 328.6,20.8 328.6,22.7 328.7,24.4 328.8,26.6 328.8,28.3 328.9,30.2 328.9,32.4 329.0,34.2 329.1,36.2 329.1,38.1 329.2,40.2 329.3,41.9 329.3,44.0 329.4,45.8 329.5,47.8 329.6,49.5 329.6,51.6 329.7,53.4 329.8,55.2 329.9,57.1 329.9,59.1 330.0,60.8 330.0,63.2 330.1,64.8 330.1,66.7 330.1,68.7 330.1,71.1 330.2,72.8 330.2,74.6 330.2,76.6 330.2,78.5 330.3,80.8 330.3,82.8 330.3,84.7 330.4,86.5 330.4,88.1 330.4,90.2 330.5,92.0 330.5,94.0 330.5,95.9 330.6,97.8 330.6,99.3 330.6,101.5 330.7,103.4 330.7,105.3 330.8,106.8 330.8,108.7 330.8,110.5 330.9,112.3 330.9,114.6 330.9,116.4 331.0,118.2 331.0,120.1 331.2,121.9 331.5,123.5 331.7,125.3 331.9,127.1 332.1,129.2 332.4,130.8 332.6,132.7 332.8,134.5 333.1,136.2 333.3,138.1 333.7,140.1 334.0,142.2 334.4,144.0 334.8,146.0 335.1,148.2 335.5,150.0 336.4,152.6 337.3,153.4 338.2,153.1 340.0,155.7 340.9,157.2 341.8,159.5 343.5,159.0 344.5,161.3 345.5,161.9 347.1,161.8 348.7,164.7 351.0,161.6 352.7,162.0 353.6,158.2 354.6,155.8 355.5,154.6 355.8,153.6 356.1,151.7 356.4,149.3 356.7,147.6 357.0,145.6 357.3,143.7 357.6,141.7 357.8,140.0 358.1,138.1 358.3,136.5 358.6,134.5 358.8,133.0 359.1,130.9 359.5,129.1 359.8,127.6 360.1,125.7 360.5,123.8 361.4,122.4 362.2,118.7 362.7,122.4 363.2,124.3 363.4,125.9 363.5,127.5 363.7,129.2 363.8,130.9 364.0,132.7 364.1,134.7 364.2,136.1 364.4,138.3 364.5,139.7 364.6,141.6 364.7,143.5 364.9,145.6 365.0,147.2 365.1,148.9 365.3,151.0 365.4,152.5 365.6,154.5 365.8,156.3 365.9,158.2 366.1,160.1 366.2,161.8 366.4,163.5 366.7,165.5 367.0,167.4 367.2,169.8 367.5,171.7 367.8,173.7 368.9,175.2 370.0,177.7 371.5,178.5 373.0,179.0 374.5,179.4 376.3,179.9 378.2,180.3 380.0,180.6 380.0,180.6 322.7,176.7" fill="#fff" stroke="none"/>
<polyline points="322.7,176.7 323.6,174.9 324.5,174.3 324.7,172.1 324.9,170.4 325.1,168.8 325.3,167.0 325.5,165.4 325.6,163.5 325.6,161.8 325.7,159.9 325.8,157.9 325.9,156.2 325.9,154.3 326.0,152.3 326.1,150.8 326.2,148.6 326.2,146.7 326.3,144.8 326.4,143.1 326.4,141.3 326.5,139.4 326.5,137.3 326.6,135.3 326.6,133.2 326.7,131.6 326.7,129.6 326.8,127.6 326.8,125.8 326.9,123.8 326.9,122.1 327.0,120.1 327.0,118.0 327.0,116.3 327.0,114.0 327.0,112.3 327.0,110.3 327.0,108.3 327.1,106.3 327.1,104.7 327.1,102.5 327.1,100.8 327.1,99.0 327.1,96.8 327.1,94.9 327.1,93.1 327.1,91.2 327.1,89.3 327.1,87.4 327.1,85.2 327.1,83.4 327.2,81.4 327.2,79.4 327.2,77.9 327.2,75.9 327.2,73.9 327.2,71.7 327.2,70.2 327.2,68.2 327.3,66.2 327.3,64.5 327.4,62.5 327.4,60.5 327.4,58.6 327.5,56.8 327.5,54.8 327.5,53.1 327.6,51.4 327.6,49.5 327.6,47.7 327.7,45.7 327.7,43.6 327.8,41.9 327.8,40.0 327.9,38.2 327.9,36.1 328.0,34.1 328.1,32.3 328.1,30.5 328.2,28.3 328.2,26.6 328.3,24.3 328.4,22.5 328.4,20.5 328.5,18.8 328.6,20.8 328.6,22.7 328.7,24.4 328.8,26.6 328.8,28.3 328.9,30.2 328.9,32.4 329.0,34.2 329.1,36.2 329.1,38.1 329.2,40.2 329.3,41.9 329.3,44.0 329.4,45.8 329.5,47.8 329.6,49.5 329.6,51.6 329.7,53.4 329.8,55.2 329.9,57.1 329.9,59.1 330.0,60.8 330.0,63.2 330.1,64.8 330.1,66.7 330.1,68.7 330.1,71.1 330.2,72.8 330.2,74.6 330.2,76.6 330.2,78.5 330.3,80.8 330.3,82.8 330.3,84.7 330.4,86.5 330.4,88.1 330.4,90.2 330.5,92.0 330.5,94.0 330.5,95.9 330.6,97.8 330.6,99.3 330.6,101.5 330.7,103.4 330.7,105.3 330.8,106.8 330.8,108.7 330.8,110.5 330.9,112.3 330.9,114.6 330.9,116.4 331.0,118.2 331.0,120.1 331.2,121.9 331.5,123.5 331.7,125.3 331.9,127.1 332.1,129.2 332.4,130.8 332.6,132.7 332.8,134.5 333.1,136.2 333.3,138.1 333.7,140.1 334.0,142.2 334.4,144.0 334.8,146.0 335.1,148.2 335.5,150.0 336.4,152.6 337.3,153.4 338.2,153.1 340.0,155.7 340.9,157.2 341.8,159.5 343.5,159.0 344.5,161.3 345.5,161.9 347.1,161.8 348.7,164.7 351.0,161.6 352.7,162.0 353.6,158.2 354.6,155.8 355.5,154.6 355.8,153.6 356.1,151.7 356.4,149.3 356.7,147.6 357.0,145.6 357.3,143.7 357.6,141.7 357.8,140.0 358.1,138.1 358.3,136.5 358.6,134.5 358.8,133.0 359.1,130.9 359.5,129.1 359.8,127.6 360.1,125.7 360.5,123.8 361.4,122.4 362.2,118.7 362.7,122.4 363.2,124.3 363.4,125.9 363.5,127.5 363.7,129.2 363.8,130.9 364.0,132.7 364.1,134.7 364.2,136.1 364.4,138.3 364.5,139.7 364.6,141.6 364.7,143.5 364.9,145.6 365.0,147.2 365.1,148.9 365.3,151.0 365.4,152.5 365.6,154.5 365.8,156.3 365.9,158.2 366.1,160.1 366.2,161.8 366.4,163.5 366.7,165.5 367.0,167.4 367.2,169.8 367.5,171.7 367.8,173.7 368.9,175.2 370.0,177.7 371.5,178.5 373.0,179.0 374.5,179.4 376.3,179.9 378.2,180.3 380.0,180.6" fill="none" stroke="#444" stroke-width="0.8" stroke-linejoin="round"/>
<polyline points="294.9,176.0 297.4,176.0 299.9,176.3 302.4,176.5 304.9,176.3 307.4,176.4 309.9,176.6 312.4,176.8 314.9,177.0 317.4,176.9 320.0,177.1 322.5,177.2 325.0,177.7 327.5,177.7 330.0,177.5 332.5,178.1 335.0,177.8 337.5,178.0 340.0,178.4 343.0,178.5 346.0,178.5" fill="none" stroke="#141414" stroke-width="1"/>
<polyline points="352.0,178.8 354.5,178.8 357.0,179.2 359.5,179.1 362.0,179.3 364.5,179.5 367.0,179.5 369.5,179.8 372.0,180.1 374.5,180.3 377.1,180.4 379.6,180.7 382.2,180.8 384.7,180.8 387.3,181.3 389.8,181.4 392.4,181.7 394.9,182.0 397.5,182.0 400.0,182.2 402.5,182.5 405.0,182.6 407.5,182.7 410.0,183.2 412.5,183.5 415.0,183.6 417.5,183.8 420.0,184.1 422.5,184.2 425.0,184.4 427.5,184.5 430.0,184.7 432.5,185.0 435.0,185.0 437.5,185.3 440.0,185.7 442.6,185.9 445.2,186.1 447.8,186.1 450.3,186.4 452.9,186.6 455.5,186.9 458.1,187.0 460.7,187.3 463.2,187.6 465.8,187.4 468.4,187.9 471.0,188.0" fill="none" stroke="#141414" stroke-width="1"/>
<line x1="294.7" y1="7.3" x2="294.7" y2="176" stroke="#707070" stroke-width="1"/>
<text x="290" y="119" textLength="65" lengthAdjust="spacingAndGlyphs" font-size="12.2" class="m" transform="rotate(-90 290 119)">Cell number</text>
<text x="322.3" y="195.5" textLength="103.5" lengthAdjust="spacingAndGlyphs" font-size="12.2" class="m">FL2A (DNA content)</text>
<text x="470" y="195.6" textLength="40" lengthAdjust="spacingAndGlyphs" font-size="12.2" class="m">Control</text>
<text x="499.6" y="183" textLength="23.4" lengthAdjust="spacingAndGlyphs" font-size="12.2" class="m">1 µM</text>
<text x="522" y="171.8" textLength="23.6" lengthAdjust="spacingAndGlyphs" font-size="12.2" class="m">5 µM</text>
<text x="476.5" y="27" font-size="17" class="t">9b</text>
</g>
<g>
<line x1="310.0" y1="396.4" x2="374.0" y2="368.0" stroke="#686868" stroke-width="0.7"/>
<line x1="280.0" y1="394.1" x2="351.0" y2="366.3" stroke="#686868" stroke-width="0.7"/>
<line x1="254.0" y1="392.4" x2="328.0" y2="364.6" stroke="#686868" stroke-width="0.7"/>
<line x1="229.0" y1="390.9" x2="306.0" y2="364.2" stroke="#686868" stroke-width="0.7"/>
<line x1="204.0" y1="389.4" x2="284.0" y2="364.0" stroke="#686868" stroke-width="0.7"/>
<polyline points="143.1,386.0 202.4,372.1 246.6,361.0" fill="none" stroke="#777" stroke-width="0.6"/>
<polyline points="339.5,398.6 394.0,369.5" fill="none" stroke="#333" stroke-width="0.8"/>
<polyline points="319.0,361.8 321.8,362.9 324.5,364.3 327.0,363.9 329.5,364.4 331.9,364.4 334.4,365.0 336.9,365.2 339.4,365.2 341.9,365.1 344.4,365.6 346.8,365.8 349.3,366.1 351.8,366.2 354.3,366.4 356.8,366.8 359.2,366.8 361.7,366.9 364.2,367.4 366.7,367.2 369.2,367.6 371.7,367.7 374.1,368.1 376.6,367.9 379.1,368.6 381.6,368.4 384.1,368.4 386.6,368.8 389.0,369.0 391.5,369.0 394.0,369.5" fill="none" stroke="#141414" stroke-width="0.9"/>
<line x1="246.8" y1="217" x2="246.8" y2="361" stroke="#868686" stroke-width="1.5"/>
<polygon points="255.2,363.0 255.2,361.2 255.2,359.3 255.2,357.5 255.2,355.6 255.2,354.0 255.2,352.3 255.2,350.3 255.2,348.4 257.4,350.4 259.5,350.2 260.8,347.9 262.0,345.9 262.6,345.6 263.2,343.9 263.8,341.8 264.4,339.8 265.0,338.1 265.6,335.8 266.1,335.1 266.7,332.4 267.2,331.1 267.8,329.6 268.3,327.8 268.9,325.5 269.4,323.5 270.0,322.1 271.0,319.2 272.0,319.6 273.0,316.4 274.0,316.2 275.0,312.7 276.0,311.3 277.0,309.3 277.2,308.2 277.4,306.3 277.6,304.4 277.8,302.9 278.0,300.9 278.1,299.0 278.2,297.1 278.3,295.2 278.4,293.3 278.5,291.4 278.6,289.5 278.8,287.5 278.9,285.8 279.0,283.9 279.1,281.6 279.2,280.0 279.3,278.1 279.4,276.1 279.6,277.8 279.7,280.1 279.9,281.9 280.1,283.6 280.2,285.6 280.4,287.9 280.6,289.8 280.7,291.5 280.9,293.4 281.2,295.6 281.6,297.7 281.9,300.1 282.0,301.7 282.1,303.5 282.2,305.6 282.2,307.4 282.3,308.9 282.4,311.1 282.5,312.7 282.6,314.6 282.8,316.6 282.9,318.8 283.1,320.7 283.2,322.8 283.4,324.6 283.9,326.7 284.3,328.1 284.8,330.2 286.3,331.8 286.8,330.9 287.2,328.7 287.7,326.6 288.1,328.2 288.4,329.7 288.8,331.9 289.2,332.8 290.6,335.5 291.3,333.1 292.0,332.7 292.8,334.1 293.5,335.7 294.6,337.8 295.7,336.3 297.9,339.0 298.6,335.7 299.4,333.6 300.8,335.5 301.4,333.8 302.1,331.3 302.7,329.7 303.7,332.7 304.2,329.0 304.7,328.1 305.2,326.4 306.6,326.2 306.9,325.7 307.2,323.7 307.5,321.8 307.8,319.6 308.1,317.9 308.4,315.7 308.9,317.6 309.5,320.2 310.4,317.0 311.3,317.9 311.7,319.3 312.1,321.2 312.5,323.5 312.8,325.3 313.1,327.4 313.3,329.4 313.6,331.6 313.9,333.4 314.0,335.3 314.2,337.2 314.3,339.1 314.5,341.1 314.6,342.7 314.8,344.8 314.9,346.5 315.2,348.5 315.5,350.4 315.8,352.4 316.1,354.6 316.4,356.5 317.3,358.8 318.1,359.8 319.0,361.6 320.8,362.4 322.7,363.3 324.5,364.0 324.5,364.6 255.2,363.3" fill="#7f7f7f" stroke="none"/>
<polyline points="255.2,363.0 255.2,361.2 255.2,359.3 255.2,357.5 255.2,355.6 255.2,354.0 255.2,352.3 255.2,350.3 255.2,348.4 257.4,350.4 259.5,350.2 260.8,347.9 262.0,345.9 262.6,345.6 263.2,343.9 263.8,341.8 264.4,339.8 265.0,338.1 265.6,335.8 266.1,335.1 266.7,332.4 267.2,331.1 267.8,329.6 268.3,327.8 268.9,325.5 269.4,323.5 270.0,322.1 271.0,319.2 272.0,319.6 273.0,316.4 274.0,316.2 275.0,312.7 276.0,311.3 277.0,309.3 277.2,308.2 277.4,306.3 277.6,304.4 277.8,302.9 278.0,300.9 278.1,299.0 278.2,297.1 278.3,295.2 278.4,293.3 278.5,291.4 278.6,289.5 278.8,287.5 278.9,285.8 279.0,283.9 279.1,281.6 279.2,280.0 279.3,278.1 279.4,276.1 279.6,277.8 279.7,280.1 279.9,281.9 280.1,283.6 280.2,285.6 280.4,287.9 280.6,289.8 280.7,291.5 280.9,293.4 281.2,295.6 281.6,297.7 281.9,300.1 282.0,301.7 282.1,303.5 282.2,305.6 282.2,307.4 282.3,308.9 282.4,311.1 282.5,312.7 282.6,314.6 282.8,316.6 282.9,318.8 283.1,320.7 283.2,322.8 283.4,324.6 283.9,326.7 284.3,328.1 284.8,330.2 286.3,331.8 286.8,330.9 287.2,328.7 287.7,326.6 288.1,328.2 288.4,329.7 288.8,331.9 289.2,332.8 290.6,335.5 291.3,333.1 292.0,332.7 292.8,334.1 293.5,335.7 294.6,337.8 295.7,336.3 297.9,339.0 298.6,335.7 299.4,333.6 300.8,335.5 301.4,333.8 302.1,331.3 302.7,329.7 303.7,332.7 304.2,329.0 304.7,328.1 305.2,326.4 306.6,326.2 306.9,325.7 307.2,323.7 307.5,321.8 307.8,319.6 308.1,317.9 308.4,315.7 308.9,317.6 309.5,320.2 310.4,317.0 311.3,317.9 311.7,319.3 312.1,321.2 312.5,323.5 312.8,325.3 313.1,327.4 313.3,329.4 313.6,331.6 313.9,333.4 314.0,335.3 314.2,337.2 314.3,339.1 314.5,341.1 314.6,342.7 314.8,344.8 314.9,346.5 315.2,348.5 315.5,350.4 315.8,352.4 316.1,354.6 316.4,356.5 317.3,358.8 318.1,359.8 319.0,361.6 320.8,362.4 322.7,363.3 324.5,364.0" fill="none" stroke="#141414" stroke-width="1.1" stroke-linejoin="round"/>
<polyline points="293.0,376.8 295.5,376.7 297.9,377.3 300.4,377.5 302.8,377.5 305.3,377.3 307.8,377.7 310.2,377.6 312.7,377.9 315.1,378.5 317.6,378.5 320.1,378.7 322.5,378.9 325.0,379.2 327.4,379.1 329.9,379.3 332.4,379.5 334.8,379.7 337.3,379.8 339.7,380.0 342.2,379.9 344.6,380.3 347.1,380.3 349.6,380.7 352.0,380.5 354.5,380.7 356.9,380.7 359.4,381.4 361.9,381.6 364.3,381.6 366.8,381.6 369.2,382.0 371.7,382.0" fill="none" stroke="#141414" stroke-width="0.9"/>
<line x1="202.4" y1="206.3" x2="202.4" y2="372" stroke="#868686" stroke-width="1.5"/>
<polygon points="221.0,369.0 222.3,366.1 223.9,365.3 225.4,364.7 227.0,363.4 228.6,362.8 230.1,362.6 231.5,362.6 233.0,359.2 233.7,358.8 234.3,356.1 235.0,354.4 235.2,353.3 235.4,351.4 235.6,349.8 235.8,347.7 235.9,345.7 236.1,344.1 236.3,342.4 236.5,340.7 236.6,338.8 236.7,336.6 236.8,334.6 236.8,332.5 236.9,330.7 237.0,328.6 237.1,326.6 237.2,324.6 237.3,322.6 237.4,320.9 237.4,318.7 237.5,317.1 237.6,314.8 237.7,313.2 237.8,310.8 237.8,308.8 237.9,307.1 238.0,304.9 238.0,303.1 238.1,300.9 238.2,298.8 238.2,297.1 238.3,295.1 238.3,293.2 238.4,291.3 238.4,289.0 238.5,287.4 238.5,285.5 238.6,283.4 238.6,281.7 238.7,279.5 238.7,277.9 238.8,275.9 238.8,273.6 238.9,271.7 238.9,270.1 239.0,268.2 239.0,265.9 239.1,264.0 239.1,262.2 239.2,260.0 239.2,258.3 239.3,256.2 239.3,254.0 239.4,252.2 239.4,250.3 239.5,248.3 239.6,250.4 239.6,252.1 239.7,254.4 239.8,256.1 239.9,258.2 239.9,260.2 240.0,262.1 240.1,264.0 240.2,266.2 240.2,268.2 240.3,270.1 240.4,272.0 240.6,273.8 240.7,275.6 240.8,277.9 241.0,279.7 241.1,281.7 241.2,283.4 241.3,285.4 241.5,287.5 241.6,289.4 241.7,291.2 241.9,293.0 242.0,295.0 242.0,297.2 242.1,298.9 242.1,301.1 242.1,303.0 242.2,305.2 242.2,307.1 242.2,308.9 242.3,310.8 242.3,312.9 242.4,314.9 242.4,317.0 242.5,319.0 242.6,321.0 242.6,322.6 242.7,324.9 242.8,326.9 242.8,328.9 242.9,330.7 242.9,332.5 243.0,334.8 243.1,336.7 243.1,338.6 243.2,340.7 243.3,342.2 243.4,343.9 243.5,345.9 243.7,347.8 243.8,349.3 243.9,351.3 244.0,353.2 244.4,354.5 244.8,356.9 245.1,358.9 245.5,360.4 246.2,361.1 247.0,362.8 247.7,365.8 249.6,366.6 251.4,366.4 252.7,364.2 254.0,365.3 255.5,364.4 256.9,362.0 258.4,362.2 258.5,360.4 258.7,358.7 258.9,356.8 259.0,355.0 259.2,352.9 259.5,350.6 260.9,348.3 262.3,346.8 263.0,346.2 263.8,343.7 264.5,342.1 264.7,340.1 264.9,338.3 265.1,336.3 265.3,334.4 265.5,332.9 265.7,330.8 265.9,328.8 266.1,327.2 266.3,325.5 266.5,323.4 266.6,321.8 266.8,319.9 267.0,318.1 267.2,316.1 267.4,314.3 267.6,312.9 267.8,311.0 267.9,309.1 268.1,307.3 268.3,305.3 268.4,303.8 268.6,301.8 268.8,300.2 268.9,298.2 269.0,296.3 269.1,294.4 269.2,292.1 269.3,290.1 269.4,288.2 269.5,286.3 269.8,284.4 270.1,282.5 270.3,281.0 270.6,279.3 270.9,277.3 271.1,275.7 271.4,273.8 271.7,271.6 272.4,270.0 273.0,267.8 273.1,265.9 273.1,264.3 273.1,262.0 273.2,260.2 273.3,262.2 273.4,264.3 273.4,266.1 273.5,268.0 274.1,269.8 274.6,271.3 274.7,273.8 274.8,275.7 274.9,277.1 275.0,278.9 275.1,280.8 275.2,282.7 275.3,284.8 275.4,286.6 275.6,288.5 275.8,290.1 276.0,292.4 276.2,294.3 276.4,296.2 276.6,298.3 276.8,299.8 276.9,301.7 277.0,303.7 277.1,305.6 277.1,307.3 277.2,309.0 277.3,310.9 277.4,312.8 277.5,314.3 277.6,316.2 277.7,318.0 277.8,319.8 277.9,321.7 278.0,323.4 278.1,325.3 278.2,327.0 278.3,329.1 278.4,330.6 278.5,332.7 278.6,334.3 278.6,336.1 278.7,338.3 278.8,339.8 278.9,342.0 279.0,343.8 279.1,345.7 279.3,347.3 279.4,349.3 279.6,351.1 279.7,353.4 279.9,355.2 280.0,357.1 280.2,358.7 280.5,360.4 280.8,362.4 281.0,364.0 281.8,366.4 282.5,368.0 283.4,369.9 284.2,371.9 285.4,373.8 286.5,374.7 289.0,375.6 291.0,376.4 293.0,376.8 293.0,377.3 221.0,374.5" fill="#c2c2c2" stroke="none"/>
<polyline points="221.0,369.0 222.3,366.1 223.9,365.3 225.4,364.7 227.0,363.4 228.6,362.8 230.1,362.6 231.5,362.6 233.0,359.2 233.7,358.8 234.3,356.1 235.0,354.4 235.2,353.3 235.4,351.4 235.6,349.8 235.8,347.7 235.9,345.7 236.1,344.1 236.3,342.4 236.5,340.7 236.6,338.8 236.7,336.6 236.8,334.6 236.8,332.5 236.9,330.7 237.0,328.6 237.1,326.6 237.2,324.6 237.3,322.6 237.4,320.9 237.4,318.7 237.5,317.1 237.6,314.8 237.7,313.2 237.8,310.8 237.8,308.8 237.9,307.1 238.0,304.9 238.0,303.1 238.1,300.9 238.2,298.8 238.2,297.1 238.3,295.1 238.3,293.2 238.4,291.3 238.4,289.0 238.5,287.4 238.5,285.5 238.6,283.4 238.6,281.7 238.7,279.5 238.7,277.9 238.8,275.9 238.8,273.6 238.9,271.7 238.9,270.1 239.0,268.2 239.0,265.9 239.1,264.0 239.1,262.2 239.2,260.0 239.2,258.3 239.3,256.2 239.3,254.0 239.4,252.2 239.4,250.3 239.5,248.3 239.6,250.4 239.6,252.1 239.7,254.4 239.8,256.1 239.9,258.2 239.9,260.2 240.0,262.1 240.1,264.0 240.2,266.2 240.2,268.2 240.3,270.1 240.4,272.0 240.6,273.8 240.7,275.6 240.8,277.9 241.0,279.7 241.1,281.7 241.2,283.4 241.3,285.4 241.5,287.5 241.6,289.4 241.7,291.2 241.9,293.0 242.0,295.0 242.0,297.2 242.1,298.9 242.1,301.1 242.1,303.0 242.2,305.2 242.2,307.1 242.2,308.9 242.3,310.8 242.3,312.9 242.4,314.9 242.4,317.0 242.5,319.0 242.6,321.0 242.6,322.6 242.7,324.9 242.8,326.9 242.8,328.9 242.9,330.7 242.9,332.5 243.0,334.8 243.1,336.7 243.1,338.6 243.2,340.7 243.3,342.2 243.4,343.9 243.5,345.9 243.7,347.8 243.8,349.3 243.9,351.3 244.0,353.2 244.4,354.5 244.8,356.9 245.1,358.9 245.5,360.4 246.2,361.1 247.0,362.8 247.7,365.8 249.6,366.6 251.4,366.4 252.7,364.2 254.0,365.3 255.5,364.4 256.9,362.0 258.4,362.2 258.5,360.4 258.7,358.7 258.9,356.8 259.0,355.0 259.2,352.9 259.5,350.6 260.9,348.3 262.3,346.8 263.0,346.2 263.8,343.7 264.5,342.1 264.7,340.1 264.9,338.3 265.1,336.3 265.3,334.4 265.5,332.9 265.7,330.8 265.9,328.8 266.1,327.2 266.3,325.5 266.5,323.4 266.6,321.8 266.8,319.9 267.0,318.1 267.2,316.1 267.4,314.3 267.6,312.9 267.8,311.0 267.9,309.1 268.1,307.3 268.3,305.3 268.4,303.8 268.6,301.8 268.8,300.2 268.9,298.2 269.0,296.3 269.1,294.4 269.2,292.1 269.3,290.1 269.4,288.2 269.5,286.3 269.8,284.4 270.1,282.5 270.3,281.0 270.6,279.3 270.9,277.3 271.1,275.7 271.4,273.8 271.7,271.6 272.4,270.0 273.0,267.8 273.1,265.9 273.1,264.3 273.1,262.0 273.2,260.2 273.3,262.2 273.4,264.3 273.4,266.1 273.5,268.0 274.1,269.8 274.6,271.3 274.7,273.8 274.8,275.7 274.9,277.1 275.0,278.9 275.1,280.8 275.2,282.7 275.3,284.8 275.4,286.6 275.6,288.5 275.8,290.1 276.0,292.4 276.2,294.3 276.4,296.2 276.6,298.3 276.8,299.8 276.9,301.7 277.0,303.7 277.1,305.6 277.1,307.3 277.2,309.0 277.3,310.9 277.4,312.8 277.5,314.3 277.6,316.2 277.7,318.0 277.8,319.8 277.9,321.7 278.0,323.4 278.1,325.3 278.2,327.0 278.3,329.1 278.4,330.6 278.5,332.7 278.6,334.3 278.6,336.1 278.7,338.3 278.8,339.8 278.9,342.0 279.0,343.8 279.1,345.7 279.3,347.3 279.4,349.3 279.6,351.1 279.7,353.4 279.9,355.2 280.0,357.1 280.2,358.7 280.5,360.4 280.8,362.4 281.0,364.0 281.8,366.4 282.5,368.0 283.4,369.9 284.2,371.9 285.4,373.8 286.5,374.7 289.0,375.6 291.0,376.4 293.0,376.8" fill="none" stroke="#141414" stroke-width="1.1" stroke-linejoin="round"/>
<polygon points="174.5,387.3 176.0,384.4 176.2,382.9 176.4,381.2 176.5,378.9 176.7,376.9 176.9,375.0 177.0,373.1 177.0,371.5 177.1,369.4 177.1,367.9 177.2,365.7 177.2,364.3 177.3,362.3 177.3,360.3 177.4,358.6 177.4,356.7 177.5,354.9 177.6,352.9 177.6,351.1 177.7,349.5 177.7,347.5 177.8,345.6 177.8,343.3 177.9,341.4 177.9,339.8 178.0,337.5 178.0,335.9 178.1,333.8 178.1,332.1 178.2,329.8 178.2,328.3 178.2,326.2 178.3,324.2 178.3,322.3 178.3,320.8 178.3,318.8 178.4,316.7 178.4,315.0 178.4,313.3 178.4,311.1 178.5,309.4 178.5,307.3 178.5,305.5 178.5,303.9 178.6,302.0 178.6,299.9 178.6,297.9 178.7,295.9 178.7,294.2 178.7,292.2 178.8,290.2 178.8,288.2 178.8,286.4 178.9,284.5 178.9,282.6 178.9,280.6 179.0,278.5 179.0,276.5 179.0,274.8 179.1,272.7 179.1,270.9 179.1,268.7 179.2,267.1 179.2,264.9 179.2,263.3 179.3,261.4 179.3,259.4 179.4,257.3 179.4,255.8 179.5,253.7 179.5,252.0 179.6,249.9 179.7,248.0 179.7,246.4 179.8,244.3 179.8,242.3 179.8,240.6 179.9,238.8 179.9,236.7 180.0,235.0 180.1,233.0 180.2,231.1 180.2,228.9 180.3,227.2 180.4,225.3 180.4,223.4 180.5,221.2 180.6,219.4 180.7,217.2 180.8,215.4 180.8,213.2 180.9,211.6 181.0,213.6 181.0,215.3 181.1,217.3 181.1,219.3 181.2,221.3 181.2,223.0 181.3,225.4 181.4,227.0 181.4,229.0 181.5,230.9 181.5,232.9 181.6,235.1 181.7,236.7 181.7,238.6 181.8,240.7 181.8,242.4 181.8,244.2 181.9,246.3 181.9,248.2 182.0,250.0 182.1,252.0 182.1,253.6 182.2,255.8 182.2,257.6 182.2,259.2 182.3,261.1 182.3,263.1 182.4,265.0 182.4,266.8 182.5,268.7 182.5,270.8 182.6,272.6 182.6,274.8 182.7,276.8 182.7,278.5 182.8,280.6 182.8,282.6 182.8,284.3 182.9,286.5 182.9,288.5 183.0,290.2 183.0,292.2 183.1,294.3 183.1,296.1 183.2,298.0 183.2,300.2 183.3,302.0 183.3,303.7 183.4,305.5 183.4,307.4 183.5,309.3 183.6,311.5 183.6,313.3 183.7,315.2 183.8,317.0 183.8,318.9 183.9,320.4 183.9,322.5 184.0,324.6 184.1,326.4 184.1,328.0 184.2,330.0 184.5,331.9 184.7,333.5 185.0,335.4 185.2,337.0 185.5,339.0 185.8,340.8 186.0,342.4 186.3,344.3 186.5,346.5 186.8,348.3 187.0,350.2 187.3,351.9 187.8,354.1 188.4,356.1 188.9,357.9 189.5,358.5 190.0,361.2 191.3,361.6 192.7,364.1 194.1,364.8 195.5,367.4 197.2,369.9 199.0,370.4 200.8,370.6 202.7,372.8 204.6,371.7 206.4,372.4 207.6,368.5 208.8,366.7 210.0,365.9 210.9,362.9 211.8,362.8 212.7,362.4 213.0,359.2 213.2,357.2 213.5,355.5 213.7,353.7 214.0,351.7 214.2,349.9 214.5,348.0 214.7,346.3 214.9,344.5 215.1,342.7 215.2,340.8 215.4,338.9 215.6,337.3 215.8,335.7 216.1,333.6 216.5,331.7 216.8,329.8 217.1,327.7 217.5,326.0 217.8,324.0 218.0,325.9 218.1,327.8 218.3,329.6 218.4,331.4 218.6,333.3 218.8,335.1 218.9,337.1 219.1,338.9 219.2,340.9 219.4,342.4 219.5,344.4 219.6,346.5 219.8,348.0 219.9,350.0 220.0,351.8 220.1,353.5 220.3,355.7 220.4,357.2 220.5,359.2 220.6,360.8 220.8,362.5 220.9,364.7 221.0,366.3 221.1,368.0 221.3,369.9 221.4,371.8 221.5,373.7 221.8,375.2 222.0,377.1 222.3,379.3 222.6,381.0 222.8,382.6 223.1,384.5 224.2,386.1 225.3,388.3 226.4,390.0 228.2,390.6 230.0,391.0 230.0,391.0 174.5,387.3" fill="#fff" stroke="none"/>
<polyline points="174.5,387.3 176.0,384.4 176.2,382.9 176.4,381.2 176.5,378.9 176.7,376.9 176.9,375.0 177.0,373.1 177.0,371.5 177.1,369.4 177.1,367.9 177.2,365.7 177.2,364.3 177.3,362.3 177.3,360.3 177.4,358.6 177.4,356.7 177.5,354.9 177.6,352.9 177.6,351.1 177.7,349.5 177.7,347.5 177.8,345.6 177.8,343.3 177.9,341.4 177.9,339.8 178.0,337.5 178.0,335.9 178.1,333.8 178.1,332.1 178.2,329.8 178.2,328.3 178.2,326.2 178.3,324.2 178.3,322.3 178.3,320.8 178.3,318.8 178.4,316.7 178.4,315.0 178.4,313.3 178.4,311.1 178.5,309.4 178.5,307.3 178.5,305.5 178.5,303.9 178.6,302.0 178.6,299.9 178.6,297.9 178.7,295.9 178.7,294.2 178.7,292.2 178.8,290.2 178.8,288.2 178.8,286.4 178.9,284.5 178.9,282.6 178.9,280.6 179.0,278.5 179.0,276.5 179.0,274.8 179.1,272.7 179.1,270.9 179.1,268.7 179.2,267.1 179.2,264.9 179.2,263.3 179.3,261.4 179.3,259.4 179.4,257.3 179.4,255.8 179.5,253.7 179.5,252.0 179.6,249.9 179.7,248.0 179.7,246.4 179.8,244.3 179.8,242.3 179.8,240.6 179.9,238.8 179.9,236.7 180.0,235.0 180.1,233.0 180.2,231.1 180.2,228.9 180.3,227.2 180.4,225.3 180.4,223.4 180.5,221.2 180.6,219.4 180.7,217.2 180.8,215.4 180.8,213.2 180.9,211.6 181.0,213.6 181.0,215.3 181.1,217.3 181.1,219.3 181.2,221.3 181.2,223.0 181.3,225.4 181.4,227.0 181.4,229.0 181.5,230.9 181.5,232.9 181.6,235.1 181.7,236.7 181.7,238.6 181.8,240.7 181.8,242.4 181.8,244.2 181.9,246.3 181.9,248.2 182.0,250.0 182.1,252.0 182.1,253.6 182.2,255.8 182.2,257.6 182.2,259.2 182.3,261.1 182.3,263.1 182.4,265.0 182.4,266.8 182.5,268.7 182.5,270.8 182.6,272.6 182.6,274.8 182.7,276.8 182.7,278.5 182.8,280.6 182.8,282.6 182.8,284.3 182.9,286.5 182.9,288.5 183.0,290.2 183.0,292.2 183.1,294.3 183.1,296.1 183.2,298.0 183.2,300.2 183.3,302.0 183.3,303.7 183.4,305.5 183.4,307.4 183.5,309.3 183.6,311.5 183.6,313.3 183.7,315.2 183.8,317.0 183.8,318.9 183.9,320.4 183.9,322.5 184.0,324.6 184.1,326.4 184.1,328.0 184.2,330.0 184.5,331.9 184.7,333.5 185.0,335.4 185.2,337.0 185.5,339.0 185.8,340.8 186.0,342.4 186.3,344.3 186.5,346.5 186.8,348.3 187.0,350.2 187.3,351.9 187.8,354.1 188.4,356.1 188.9,357.9 189.5,358.5 190.0,361.2 191.3,361.6 192.7,364.1 194.1,364.8 195.5,367.4 197.2,369.9 199.0,370.4 200.8,370.6 202.7,372.8 204.6,371.7 206.4,372.4 207.6,368.5 208.8,366.7 210.0,365.9 210.9,362.9 211.8,362.8 212.7,362.4 213.0,359.2 213.2,357.2 213.5,355.5 213.7,353.7 214.0,351.7 214.2,349.9 214.5,348.0 214.7,346.3 214.9,344.5 215.1,342.7 215.2,340.8 215.4,338.9 215.6,337.3 215.8,335.7 216.1,333.6 216.5,331.7 216.8,329.8 217.1,327.7 217.5,326.0 217.8,324.0 218.0,325.9 218.1,327.8 218.3,329.6 218.4,331.4 218.6,333.3 218.8,335.1 218.9,337.1 219.1,338.9 219.2,340.9 219.4,342.4 219.5,344.4 219.6,346.5 219.8,348.0 219.9,350.0 220.0,351.8 220.1,353.5 220.3,355.7 220.4,357.2 220.5,359.2 220.6,360.8 220.8,362.5 220.9,364.7 221.0,366.3 221.1,368.0 221.3,369.9 221.4,371.8 221.5,373.7 221.8,375.2 222.0,377.1 222.3,379.3 222.6,381.0 222.8,382.6 223.1,384.5 224.2,386.1 225.3,388.3 226.4,390.0 228.2,390.6 230.0,391.0" fill="none" stroke="#333" stroke-width="0.8" stroke-linejoin="round"/>
<polyline points="143.1,386.0 145.6,386.3 148.0,386.4 150.5,386.5 153.0,386.5 155.4,386.8 157.9,386.9 160.4,387.1 162.8,386.9 165.3,387.4 167.8,387.1 170.3,387.6 172.7,387.6 175.2,387.7 177.7,388.1 180.1,388.0 182.6,388.1 185.1,388.4 187.5,388.6 190.0,388.6 192.5,388.6 195.0,388.8 197.5,388.9 200.0,389.2 202.5,389.2 205.0,389.4 207.5,389.6 210.0,389.7 212.5,389.8 215.0,390.2 217.5,390.4 220.0,390.4 222.5,390.5 225.0,390.5 227.5,390.7 230.0,390.8 232.5,391.2 235.0,391.3 237.5,391.2 240.0,391.8 242.5,391.7 245.0,392.1 247.5,392.2 250.0,392.4 252.5,392.2 255.0,392.5 257.5,392.9 260.0,392.6 262.5,392.7 265.0,393.1 267.5,393.2 270.0,393.6 272.5,393.7 275.0,393.8 277.4,394.2 279.9,394.2 282.4,394.3 284.9,394.6 287.4,394.6 289.9,394.8 292.3,395.1 294.8,395.2 297.3,395.7 299.8,395.7 302.3,395.8 304.8,395.8 307.2,396.1 309.7,396.3 312.2,396.6 314.7,396.8 317.2,397.1 319.6,397.3 322.1,397.3 324.6,397.5 327.1,397.7 329.6,398.1 332.1,398.0 334.5,398.2 337.0,398.6 339.5,398.6" fill="none" stroke="#141414" stroke-width="1"/>
<line x1="143" y1="198.6" x2="143" y2="386" stroke="#666" stroke-width="1"/>
<text x="138.2" y="323.5" textLength="71" lengthAdjust="spacingAndGlyphs" font-size="12.2" class="m" transform="rotate(-90 138.2 323.5)">Cell number</text>
<text x="174" y="406.8" textLength="114" lengthAdjust="spacingAndGlyphs" font-size="12.2" class="m">FL2A (DNA content)</text>
<text x="338.2" y="407.8" textLength="43" lengthAdjust="spacingAndGlyphs" font-size="12.2" class="m">Control</text>
<text x="370.4" y="392.9" textLength="26" lengthAdjust="spacingAndGlyphs" font-size="12.2" class="m">1 µM</text>
<text x="395.4" y="379.2" textLength="25" lengthAdjust="spacingAndGlyphs" font-size="12.2" class="m">5 µM</text>
<text x="311" y="240.6" font-size="17.5" class="t">11b</text>
</g>
</svg>
</body></html>
